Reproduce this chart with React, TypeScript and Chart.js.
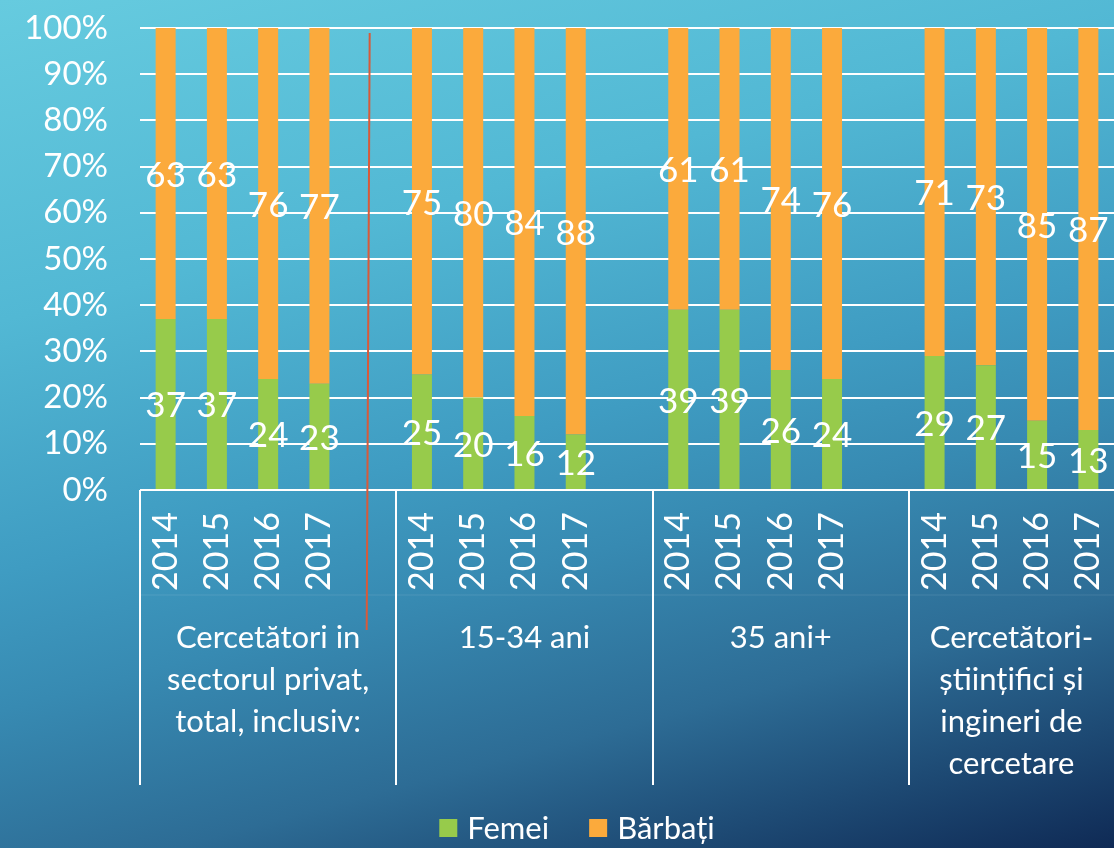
import React, { useEffect, useRef } from 'react';
import { Chart, registerables } from 'chart.js';

Chart.register(...registerables);

// ---- data ----
const years = ['2014', '2015', '2016', '2017'];
const groupLines = [
  ['Cercetători in', 'sectorul privat,', 'total, inclusiv:'],
  ['15-34 ani'],
  ['35 ani+'],
  ['Cercetători-', 'științifici și', 'ingineri de', 'cercetare'],
];
const femei = [37, 37, 24, 23, 25, 20, 16, 12, 39, 39, 26, 24, 29, 27, 15, 13];
const barbati = [63, 63, 76, 77, 75, 80, 84, 88, 61, 61, 74, 76, 71, 73, 85, 87];
const seriesNames = ['Femei', 'Bărbați'];
const seriesColors = ['#97cb4b', '#fbaa3c'];

const FONT = 'Lato, "Open Sans", sans-serif';
const W = 1114;
const H = 848;
const AXIS_H = 295;

// categories: each group gets its years, first three groups followed by an empty slot
const categories: string[] = [];
const groupStart: number[] = [];
const groupEnd: number[] = [];
groupLines.forEach((_, gi) => {
  groupStart.push(categories.length);
  years.forEach((y) => categories.push(y));
  groupEnd.push(categories.length);
  if (gi < groupLines.length - 1) categories.push('');
});

function spread(values: number[]): (number | null)[] {
  const out: (number | null)[] = [];
  let k = 0;
  categories.forEach((c) => {
    if (c === '') out.push(null);
    else out.push(values[k++]);
  });
  return out;
}

const overlay = {
  id: 'overlay',
  afterDatasetsDraw(chart: any) {
    const ctx = chart.ctx;
    ctx.save();
    ctx.fillStyle = '#ffffff';
    ctx.font = `35px ${FONT}`;
    ctx.textAlign = 'center';
    ctx.textBaseline = 'middle';
    chart.data.datasets.forEach((ds: any, di: number) => {
      const meta = chart.getDatasetMeta(di);
      meta.data.forEach((el: any, i: number) => {
        const v = ds.data[i];
        if (v == null) return;
        const y = (el.y + el.base) / 2;
        ctx.fillText(String(v), el.x, y + 2);
      });
    });
    ctx.restore();
  },
  afterDraw(chart: any) {
    const ctx = chart.ctx;
    const xs = chart.scales.x;
    const area = chart.chartArea;
    const n = categories.length;
    const cw = (area.right - area.left) / n;
    const edge = (i: number) => area.left + i * cw;
    const top = area.bottom;
    const bottom = area.bottom + AXIS_H;

    ctx.save();
    // faint level separator
    ctx.strokeStyle = 'rgba(255,255,255,0.10)';
    ctx.lineWidth = 1;
    ctx.beginPath();
    ctx.moveTo(area.left, top + 105);
    ctx.lineTo(area.right, top + 105);
    ctx.stroke();

    // group separators
    ctx.strokeStyle = '#ffffff';
    ctx.lineWidth = 2;
    groupStart.forEach((s) => {
      const x = Math.round(edge(s));
      ctx.beginPath();
      ctx.moveTo(x, top);
      ctx.lineTo(x, bottom);
      ctx.stroke();
    });

    // group labels
    ctx.fillStyle = '#ffffff';
    ctx.font = `31px ${FONT}`;
    ctx.textAlign = 'center';
    ctx.textBaseline = 'alphabetic';
    groupLines.forEach((lines, gi) => {
      const endEdge = gi < groupLines.length - 1 ? edge(groupEnd[gi] + 1) : area.right;
      const cx = (edge(groupStart[gi]) + endEdge) / 2;
      lines.forEach((line, li) => {
        ctx.fillText(line, cx, top + 158 + li * 42);
      });
    });

    // red marker line
    const rx = xs.getPixelForValue(4);
    ctx.strokeStyle = '#d85a3a';
    ctx.lineWidth = 2;
    ctx.beginPath();
    ctx.moveTo(rx - 1, area.top + 5);
    ctx.lineTo(rx - 4, top + 140);
    ctx.stroke();

    // legend
    ctx.font = `31px ${FONT}`;
    ctx.textBaseline = 'alphabetic';
    ctx.textAlign = 'left';
    const box = 18;
    const gapBox = 10;
    const gapItem = 40;
    const widths = seriesNames.map((s) => ctx.measureText(s).width);
    const total = widths.reduce((a, w) => a + box + gapBox + w, 0) + gapItem * (seriesNames.length - 1);
    let lx = chart.width / 2 + 20 - total / 2;
    const baseY = 839;
    seriesNames.forEach((s, i) => {
      ctx.fillStyle = seriesColors[i];
      ctx.fillRect(lx, baseY - box - 2, box, box);
      lx += box + gapBox;
      ctx.fillStyle = '#ffffff';
      ctx.fillText(s, lx, baseY);
      lx += widths[i] + gapItem;
    });
    ctx.restore();
  },
};

export default function App() {
  const ref = useRef<HTMLCanvasElement | null>(null);

  useEffect(() => {
    if (!ref.current) return;
    const chart = new Chart(ref.current, {
      type: 'bar',
      data: {
        labels: categories,
        datasets: [
          {
            label: seriesNames[0],
            data: spread(femei),
            backgroundColor: seriesColors[0],
            borderWidth: 0,
            barPercentage: 0.39,
            categoryPercentage: 1,
          },
          {
            label: seriesNames[1],
            data: spread(barbati),
            backgroundColor: seriesColors[1],
            borderWidth: 0,
            barPercentage: 0.39,
            categoryPercentage: 1,
          },
        ],
      },
      options: {
        animation: false,
        responsive: false,
        layout: { padding: { top: 28, bottom: H - 490 - AXIS_H, left: 0, right: 0 } },
        plugins: {
          legend: { display: false },
          tooltip: { enabled: false },
        },
        scales: {
          x: {
            stacked: true,
            grid: { display: false, drawTicks: false },
            border: { display: false },
            ticks: {
              autoSkip: false,
              minRotation: 90,
              maxRotation: 90,
              padding: 22,
              color: '#ffffff',
              font: { family: FONT, size: 34 },
            },
            afterFit: (scale: any) => {
              scale.height = AXIS_H;
              scale.paddingLeft = 0;
              scale.paddingRight = 0;
            },
          },
          y: {
            stacked: true,
            min: 0,
            max: 100,
            grid: { color: '#ffffff', lineWidth: 2, drawTicks: false },
            border: { display: false },
            ticks: {
              stepSize: 10,
              padding: 32,
              color: '#ffffff',
              font: { family: FONT, size: 33 },
              callback: (v: any) => `${v}%`,
            },
            afterFit: (scale: any) => {
              scale.width = 140;
              scale.paddingTop = 0;
              scale.paddingBottom = 0;
            },
          },
        },
      },
      plugins: [overlay],
    });
    return () => chart.destroy();
  }, []);

  return (
    <div
      style={{
        position: 'fixed',
        left: 0,
        top: 0,
        width: W,
        height: H,
        overflow: 'hidden',
        background:
          'linear-gradient(165deg, #66cbdf 0%, #52b8d4 28%, #3f9cc2 50%, #378ab2 62%, #2d6c95 78%, #0f2a55 100%)',
      }}
    >
      <canvas ref={ref} width={W} height={H} style={{ display: 'block', width: W, height: H }} />
    </div>
  );
}
